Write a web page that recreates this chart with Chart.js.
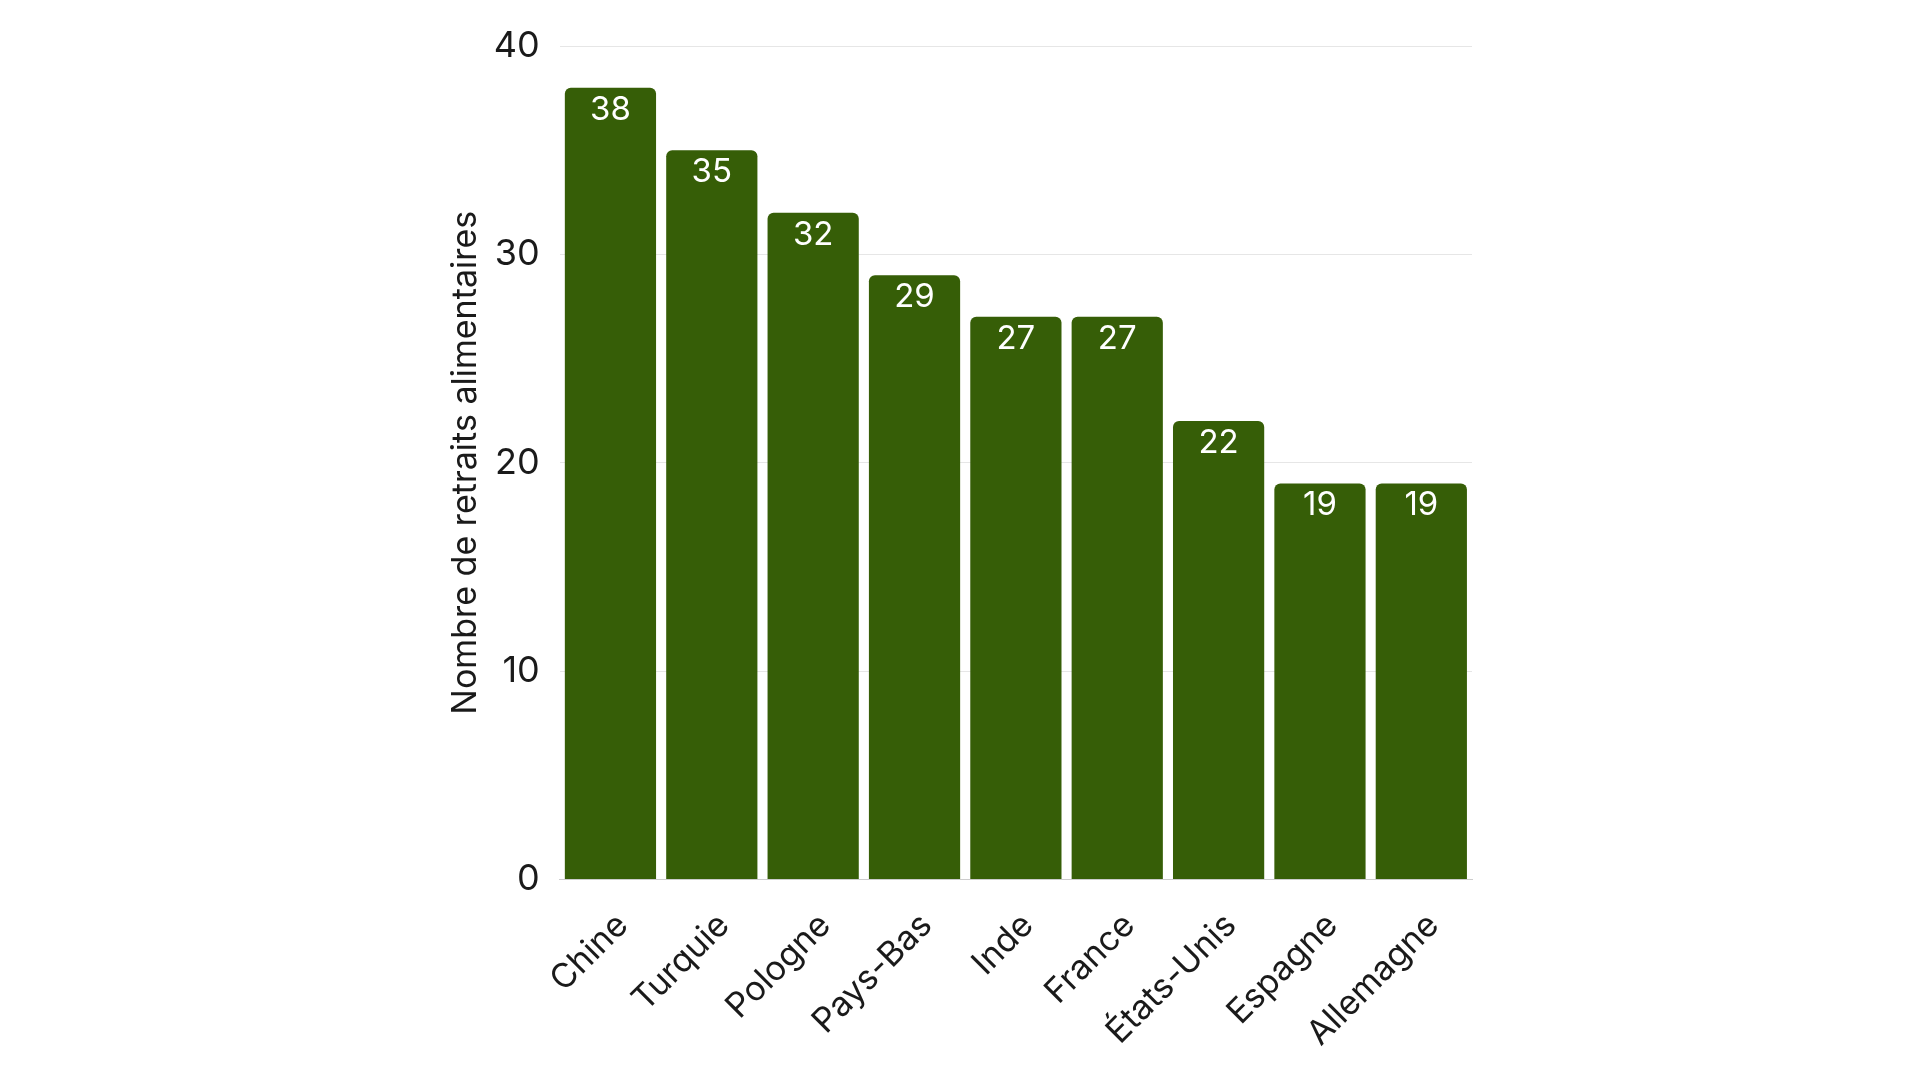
<!DOCTYPE html>
<html>
<head>
<meta charset="utf-8">
<script src="https://cdn.jsdelivr.net/npm/chart.js@4"></script>
<style>
  html, body { margin: 0; padding: 0; background: #fff; }
  #wrap { position: absolute; left: 0; top: 4px; width: 1920px; height: 1076px; }
</style>
</head>
<body>
<div id="wrap"><canvas id="barChart"></canvas></div>
<script>
'use strict';

var countries = ['Chine', 'Turquie', 'Pologne', 'Pays-Bas', 'Inde', 'France', 'États-Unis', 'Espagne', 'Allemagne'];
var recalls = [38, 35, 32, 29, 27, 27, 22, 19, 19];
var yTicks = [0, 10, 20, 30, 40];

// draws the value inside the top of each bar
var valueLabels = {
  id: 'valueLabels',
  afterDatasetsDraw: function (chart) {
    var ctx = chart.ctx;
    var meta = chart.getDatasetMeta(0);
    ctx.save();
    ctx.fillStyle = '#ffffff';
    ctx.font = '33px Inter';
    ctx.textAlign = 'center';
    ctx.textBaseline = 'middle';
    meta.data.forEach(function (bar, i) {
      ctx.fillText(chart.data.datasets[0].data[i], bar.x, bar.y + 22);
    });
    ctx.restore();
  }
};

Chart.defaults.font.family = 'Inter';
Chart.defaults.color = '#1a1a1a';

var ctx = document.getElementById('barChart').getContext('2d');
var chart = new Chart(ctx, {
  type: 'bar',
  data: {
    labels: countries,
    datasets: [{
      data: recalls,
      backgroundColor: '#365e07',
      borderRadius: { topLeft: 6, topRight: 6 },
      borderSkipped: 'bottom',
      barPercentage: 0.9,
      categoryPercentage: 1.0
    }]
  },
  options: {
    responsive: true,
    maintainAspectRatio: false,
    animation: false,
    layout: { padding: { left: 445, right: 448, top: 42, bottom: 8 } },
    plugins: {
      legend: { display: false },
      tooltip: { enabled: false }
    },
    scales: {
      x: {
        grid: { display: false },
        border: { color: '#cccccc' },
        ticks: {
          font: { size: 34 },
          maxRotation: 45,
          minRotation: 45,
          padding: 18,
          labelOffset: 12
        }
      },
      y: {
        min: 0,
        max: 40,
        afterBuildTicks: function (axis) {
          axis.ticks = yTicks.map(function (v) { return { value: v }; });
        },
        grid: { color: '#e6e6e6', drawTicks: false },
        border: { display: false },
        ticks: { font: { size: 36 }, padding: 20 },
        title: {
          display: true,
          text: 'Nombre de retraits alimentaires',
          font: { size: 34 },
          padding: { top: 0, bottom: -12 }
        }
      }
    }
  },
  plugins: [valueLabels]
});
</script>
</body>
</html>
